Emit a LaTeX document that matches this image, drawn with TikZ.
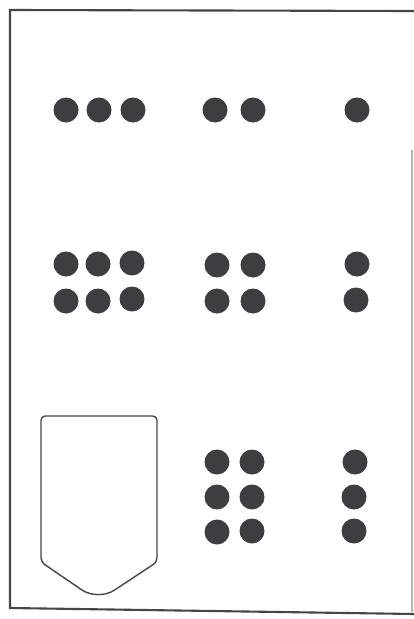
\documentclass[tikz,border=0pt]{standalone}
\usepackage{tikz}
\usetikzlibrary{calc}
\usepackage{xcolor}
\definecolor{dotgray}{RGB}{62, 62, 66}
\definecolor{framegray}{RGB}{70, 70, 70}

\tikzset{
  braille/.style={fill=dotgray},
  outline/.style={draw=framegray, line width=1.2pt}
}

\begin{document}
\begin{tikzpicture}[x=0.025cm, y=-0.025cm]

  \useasboundingbox (0,0) rectangle (414,619);
  \fill[white] (0,0) rectangle (414,619);

  % ===== 外框 =====
  \draw[outline, line width=1.5pt] (414,11) -- (10,10) -- (10,608) -- (414,614);
  \draw[framegray!40, line width=0.8pt] (412,150) -- (412,612);

  % ===== 第一行：3 / 2 / 1 =====
  \foreach \x in {66, 99, 133, 215, 253, 357} {
    \fill[braille] (\x, 110) circle (12.5);
  }

  % ===== 第二行：2x3 / 2x2 / 2x1 =====
  \foreach \x/\y in {66/264, 98/264, 132/263, 66/301, 98/301, 132/299,
                     217/265, 253/265, 217/301, 253/301, 357/264, 356/300} {
    \fill[braille] (\x, \y) circle (12.5);
  }

  % ===== 第三行：盾形 / 3x2 / 3x1 =====
  \draw[outline, line width=1pt]
    (41,480) [rounded corners=3] -- (41,416) -- (157,416) -- (157,562)
    [rounded corners=14] -- (98,601) [rounded corners=3] -- (41,562) -- cycle;

  \foreach \x/\y in {217/462, 252/462, 217/497, 252/497, 217/532, 252/531,
                     355/462, 354/497, 354/531} {
    \fill[braille] (\x, \y) circle (12.5);
  }

\end{tikzpicture}
\end{document}
